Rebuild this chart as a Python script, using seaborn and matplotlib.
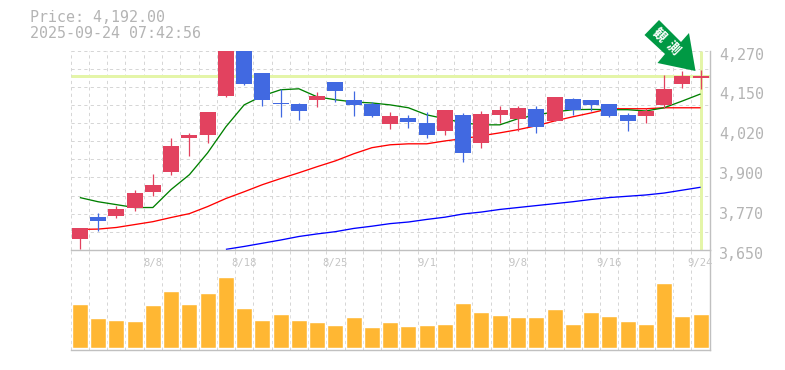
import numpy as np
import seaborn as sns
import matplotlib
matplotlib.use('Agg')
import matplotlib.pyplot as plt
from matplotlib.patches import Polygon
from matplotlib.transforms import Affine2D, ScaledTranslation

# Values
dates = ['8/4', '8/5', '8/6', '8/7', '8/8', '8/12', '8/13', '8/14', '8/15', '8/18',
         '8/19', '8/20', '8/21', '8/22', '8/25', '8/26', '8/27', '8/28', '8/29', '9/1',
         '9/2', '9/3', '9/4', '9/5', '9/8', '9/9', '9/10', '9/11', '9/12', '9/16',
         '9/17', '9/18', '9/19', '9/22', '9/24']
opens = [3683, 3754, 3757, 3779, 3831, 3893, 3999, 4008, 4129, 4268,
         4200, 4107, 4104, 4117, 4172, 4117, 4104, 4042, 4061, 4045,
         4020, 4070, 3983, 4070, 4058, 4089, 4051, 4120, 4117, 4104,
         4070, 4067, 4101, 4166, 4185]
closes = [3717, 3741, 3776, 3828, 3853, 3974, 4008, 4079, 4268, 4166,
          4117, 4104, 4082, 4129, 4144, 4101, 4067, 4067, 4048, 4008,
          4086, 3952, 4073, 4086, 4092, 4033, 4126, 4086, 4101, 4067,
          4051, 4082, 4151, 4191, 4192]
highs = [3717, 3766, 3788, 3838, 3887, 3999, 4014, 4079, 4272, 4268,
         4200, 4151, 4107, 4141, 4172, 4144, 4110, 4079, 4070, 4079,
         4086, 4076, 4082, 4098, 4098, 4098, 4126, 4123, 4117, 4104,
         4076, 4092, 4194, 4206, 4210]
lows = [3652, 3710, 3751, 3772, 3819, 3884, 3943, 3983, 4126, 4163,
        4098, 4064, 4055, 4095, 4110, 4067, 4064, 4027, 4030, 3999,
        4008, 3924, 3968, 4045, 4020, 4014, 4051, 4070, 4082, 4064,
        4020, 4045, 4092, 4154, 4151]
ma_short = [3813, 3800, 3791, 3782, 3782, 3838, 3884, 3952, 4033, 4101,
            4129, 4148, 4151, 4126, 4117, 4110, 4107, 4101, 4092, 4070,
            4058, 4045, 4039, 4039, 4058, 4070, 4079, 4086, 4087, 4086,
            4086, 4082, 4092, 4113, 4135]
ma_mid = [3714, 3715, 3720, 3729, 3738, 3751, 3763, 3785, 3810, 3831,
          3853, 3872, 3890, 3909, 3927, 3949, 3968, 3977, 3980, 3980,
          3989, 3996, 4005, 4014, 4024, 4036, 4051, 4064, 4076, 4089,
          4089, 4089, 4092, 4092, 4092]
ma_long = [np.nan, np.nan, np.nan, np.nan, np.nan, np.nan, np.nan, np.nan, 3652, 3661,
           3671, 3681, 3692, 3700, 3707, 3717, 3724, 3732, 3737, 3745,
           3752, 3762, 3768, 3776, 3782, 3788, 3794, 3800, 3807, 3813,
           3817, 3821, 3827, 3836, 3845]
volume = [44, 30, 28, 27, 43, 57, 44, 55, 71, 40,
          28, 34, 28, 26, 23, 31, 21, 26, 22, 23,
          24, 45, 36, 33, 31, 31, 39, 24, 36, 32,
          27, 24, 65, 32, 34]
price_ticks = [4270, 4146, 4022, 3898, 3774, 3650]
price_labels = ['4,270', '4,150', '4,020', '3,900', '3,770', '3,650']
date_ticks = ['8/8', '8/18', '8/25', '9/1', '9/8', '9/16', '9/24']
last_price = 4192

UP = '#e2425f'
DOWN = '#4169e1'
GRID = '#d6d6d6'
AXIS = '#c0c0c0'
TEXT = '#b4b4b4'
MARK = '#e4f5a8'
W, H = 785, 370

sns.set_theme(style='white')
plt.rcParams['font.family'] = ['DejaVu Sans Mono', 'Noto Sans CJK JP']
plt.rcParams['lines.solid_capstyle'] = 'butt'

fig = plt.figure(figsize=(W / 100, H / 100), dpi=100)
ax = fig.add_axes([70.7 / W, 1 - 250 / H, 639 / W, 199.5 / H])
vol_ax = fig.add_axes([70.7 / W, 1 - 350 / H, 639 / W, 100 / H])
vol_ax.patch.set_alpha(0)

x = np.arange(len(dates))
edges = np.concatenate([[-0.5], x[:-1] + 0.5])
grid_kw = dict(color=GRID, lw=0.72, ls=(0, (3.2, 3.2)), snap=True, zorder=0)

# volume
sns.barplot(x=dates, y=volume, color='#ffb733', saturation=1, width=0.876, ax=vol_ax, zorder=2)
vol_ax.set_xlim(-0.5, len(dates) - 0.5)
vol_ax.set_ylim(-2, 98)
vol_ax.set_yticks([])
vol_ax.set_xticks([])
vol_ax.set_xlabel('')
vol_ax.set_ylabel('')
for e in edges:
    vol_ax.axvline(e, **grid_kw)

# price panel
for e in edges:
    ax.axvline(e, **grid_kw)
for g in np.linspace(3650, 4270, 12)[1:]:
    ax.axhline(g, **grid_kw)
ax.axhline(last_price, color=MARK, lw=2.16, zorder=1)
ax.axvline(x[-1], color=MARK, lw=2.16, zorder=1)

for values, col in [(ma_long, '#0000ff'), (ma_mid, '#ff0000'), (ma_short, '#008000')]:
    sns.lineplot(x=x, y=values, color=col, lw=0.95, ax=ax, zorder=2)

colors = [UP if c >= o else DOWN for o, c in zip(opens, closes)]
ax.vlines(x, lows, highs, colors=colors, lw=0.9, zorder=3)
ax.bar(x, np.abs(np.array(closes) - np.array(opens)), bottom=np.minimum(opens, closes),
       width=0.876, color=colors, linewidth=0, zorder=4)

ax.set_xlim(-0.5, len(dates) - 0.5)
ax.set_ylim(3650, 4270)
ax.yaxis.tick_right()
ax.set_yticks(price_ticks, price_labels)
ax.set_xticks([dates.index(d) for d in date_ticks], date_ticks)
ax.tick_params(axis='y', length=0, pad=7, labelsize=10.8, labelcolor=TEXT)
ax.tick_params(axis='x', length=0, pad=5.5, labelsize=7.6, labelcolor='#c4c4c4')
for lab in ax.get_yticklabels():
    lab.set_transform(lab.get_transform() + ScaledTranslation(0, -3 / 100, fig.dpi_scale_trans))
ax.set_xlabel('')
ax.set_ylabel('')

for a in [ax, vol_ax]:
    a.grid(False)
    for side in ['top', 'left']:
        a.spines[side].set_visible(False)
    for side in ['right', 'bottom']:
        a.spines[side].set_color(AXIS)
        a.spines[side].set_linewidth(1.0)
ax.set_zorder(3)
ax.patch.set_alpha(0)

# header text and arrow, placed in picture pixels
to_px = Affine2D().scale(1, -1).translate(0, H)
fig.text(30, 18, 'Price: 4,192.00', transform=to_px, fontsize=10.8, color=TEXT, va='center')
fig.text(30, 33, '2025-09-24 07:42:56', transform=to_px, fontsize=10.8, color=TEXT, va='center')
arrow = Polygon([(659, 20), (644.5, 35), (665, 54), (657.5, 63), (695.5, 71), (689, 33), (681, 42)],
                closed=True, transform=to_px, facecolor='#009944', edgecolor='none', zorder=10)
fig.add_artist(arrow)
for ch, cx, cy in [('観', 659, 35), ('測', 672.5, 48)]:
    fig.text(cx, cy, ch, transform=to_px, fontsize=9.5, color='white', rotation=-45,
             rotation_mode='anchor', ha='center', va='center', fontweight='bold',
             family=['Noto Sans CJK JP'], zorder=11)

fig.savefig('out.png', dpi=100)
